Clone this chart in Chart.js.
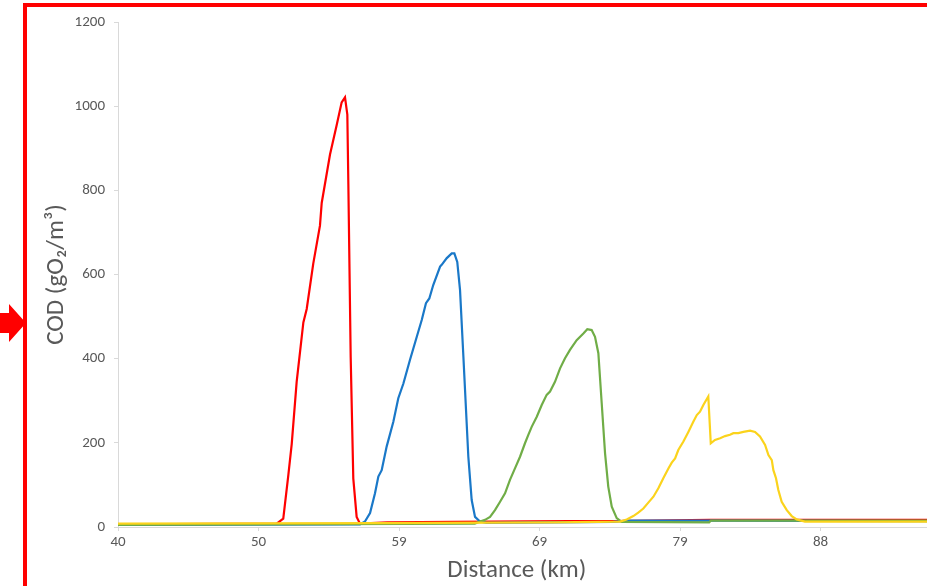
<!DOCTYPE html>
<html>
<head>
<meta charset="utf-8">
<title>COD along distance</title>
<script src="https://cdn.jsdelivr.net/npm/chart.js@4.4.1/dist/chart.umd.min.js"></script>
<style>
    body { margin: 0; background: #fff; overflow: hidden; }
    #wrap { position: relative; width: 927px; height: 586px; }
    #frame {
        position: absolute; left: 23px; top: 3px; width: 920px; height: 600px;
        border-left: 4px solid #ff0000; border-top: 4px solid #ff0000;
        pointer-events: none;
    }
    #arrow {
        position: absolute; left: 0; top: 304px; width: 26px; height: 38px;
        background: #ff0000;
        clip-path: polygon(0 9px, 9px 9px, 9px 0, 26px 19px, 9px 38px, 9px 29px, 0 29px);
    }
</style>
</head>
<body>
<div id="wrap">
    <canvas id="codChart" width="927" height="586"></canvas>
    <div id="frame"></div>
    <div id="arrow"></div>
</div>
<script>
// Axis ticks (km positions on the distance axis and the labels shown there)
const xTickKm = [40, 49.65, 59.3, 68.95, 78.6, 88.25];
const xTickLabels = ['40', '50', '59', '69', '79', '88'];
const yTicks = [0, 200, 400, 600, 800, 1000, 1200];

// Red series
const redKm = [40, 50.9, 51.35, 51.7, 51.93, 52.27, 52.73, 52.96, 53.41, 53.87, 53.99, 54.56, 55.02, 55.36, 55.59, 55.75, 55.82, 55.98, 56.16, 56.39, 56.62, 58.5, 63.0, 71.0, 74.0, 80.7, 95.6];
const redCod = [6, 8, 20, 124, 197, 345, 486, 518, 626, 716, 770, 885, 955, 1009, 1021, 980, 815, 404, 115, 24, 8, 11, 12, 14, 14, 17, 17];

// Blue series
const blueKm = [40, 56.62, 56.96, 57.31, 57.65, 57.88, 58.11, 58.45, 58.91, 59.25, 59.6, 60.05, 60.52, 60.86, 61.15, 61.38, 61.65, 62.12, 62.23, 62.58, 62.92, 63.1, 63.3, 63.49, 63.72, 64.06, 64.29, 64.52, 64.86, 65.32, 74.0, 75.0, 80.7, 95.6];
const blueCod = [5, 6, 13, 33, 80, 120, 135, 191, 250, 306, 341, 397, 452, 492, 532, 543, 575, 619, 623, 639, 650, 650, 630, 563, 405, 167, 64, 24, 13, 10, 12, 15, 15, 14];

// Green series
const greenKm = [40, 64.5, 64.86, 65.21, 65.55, 65.89, 66.24, 66.58, 66.92, 67.27, 67.61, 67.95, 68.18, 68.41, 68.76, 69.1, 69.44, 69.67, 70.01, 70.36, 70.7, 71.04, 71.5, 71.96, 72.23, 72.53, 72.76, 72.99, 73.22, 73.45, 73.67, 73.91, 74.25, 74.59, 80.6, 80.7, 95.6];
const greenCod = [5, 8, 13, 17, 24, 40, 60, 80, 112, 140, 167, 199, 219, 238, 262, 290, 314, 322, 345, 377, 401, 421, 444, 460, 470, 468, 452, 413, 294, 175, 96, 48, 21, 12, 11, 15, 15];

// Yellow series
const yellowKm = [40, 58, 70, 74.48, 74.94, 75.39, 75.73, 76.08, 76.42, 76.77, 77.11, 77.45, 77.8, 78.03, 78.26, 78.48, 78.83, 79.17, 79.51, 79.75, 79.97, 80.2, 80.54, 80.71, 81.0, 81.35, 81.69, 82.03, 82.26, 82.6, 82.95, 83.41, 83.75, 84.09, 84.44, 84.67, 84.9, 85.01, 85.19, 85.35, 85.58, 85.93, 86.27, 86.61, 87.18, 95.6];
const yellowCod = [8, 9, 11, 13, 18, 26, 34, 44, 58, 72, 92, 116, 139, 153, 163, 183, 203, 226, 250, 266, 274, 290, 310, 199, 207, 211, 216, 219, 223, 223, 226, 229, 226, 215, 195, 171, 159, 135, 116, 88, 60, 40, 26, 18, 13, 13];

const textColor = '#595959';
const axisColor = '#d9d9d9';
const fontFamily = 'Carlito, Lato, "Open Sans", sans-serif';

function toPoints(km, cod) {
    return km.map((x, i) => ({ x: x, y: cod[i] }));
}

function makeSeries(label, km, cod, color, order) {
    return {
        label: label,
        data: toPoints(km, cod),
        borderColor: color,
        backgroundColor: color,
        borderWidth: 2.2,
        pointRadius: 0,
        tension: 0,
        fill: false,
        order: order
    };
}

const ctx = document.getElementById('codChart');

new Chart(ctx, {
    type: 'line',
    data: {
        datasets: [
            makeSeries('Red', redKm, redCod, '#ff0000', 3),
            makeSeries('Blue', blueKm, blueCod, '#1a78c8', 2),
            makeSeries('Green', greenKm, greenCod, '#70ad47', 1),
            makeSeries('Yellow', yellowKm, yellowCod, '#fbd31c', 0)
        ]
    },
    options: {
        responsive: false,
        devicePixelRatio: 1,
        animation: false,
        layout: {
            padding: { top: 22, left: 0, right: 0, bottom: 0 }
        },
        plugins: {
            legend: { display: false },
            tooltip: { enabled: false }
        },
        scales: {
            x: {
                type: 'linear',
                min: 40,
                max: 95.56,
                afterBuildTicks: function(scale) {
                    scale.ticks = xTickKm.map(v => ({ value: v }));
                },
                afterFit: function(scale) {
                    scale.height = 59;
                },
                ticks: {
                    autoSkip: false,
                    maxRotation: 0,
                    padding: 2,
                    color: textColor,
                    font: { family: fontFamily, size: 15 },
                    callback: function(value, index) {
                        return xTickLabels[index];
                    }
                },
                grid: {
                    drawOnChartArea: false,
                    drawTicks: true,
                    tickLength: 4,
                    color: axisColor
                },
                border: { color: axisColor, width: 1 },
                title: {
                    display: true,
                    // trailing spaces nudge the centred title a little to the left, like the original
                    text: 'Distance (km)  ',
                    color: textColor,
                    font: { family: fontFamily, size: 25 },
                    padding: { top: 0, bottom: 0 }
                }
            },
            y: {
                min: 0,
                max: 1200,
                afterBuildTicks: function(scale) {
                    scale.ticks = yTicks.map(v => ({ value: v }));
                },
                afterFit: function(scale) {
                    scale.width = 118;
                },
                ticks: {
                    padding: 9,
                    color: textColor,
                    font: { family: fontFamily, size: 15 },
                    callback: function(value) {
                        return String(value);
                    }
                },
                grid: {
                    drawOnChartArea: false,
                    drawTicks: true,
                    tickLength: 4,
                    color: axisColor
                },
                border: { color: axisColor, width: 1 },
                title: {
                    display: true,
                    text: 'COD (gO₂/m³)',
                    color: textColor,
                    font: { family: fontFamily, size: 25 },
                    padding: { top: 42, bottom: 0 }
                }
            }
        }
    }
});
</script>
</body>
</html>
